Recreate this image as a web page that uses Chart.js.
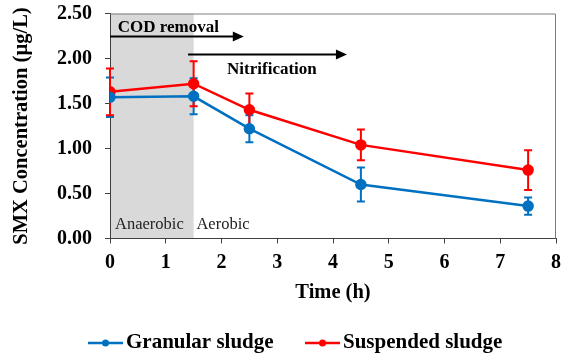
<!DOCTYPE html>
<html>
<head>
<meta charset="utf-8">
<script src="https://cdn.jsdelivr.net/npm/chart.js@4/dist/chart.umd.min.js"></script>
<style>
  html, body { margin: 0; padding: 0; background: #fff; }
  #wrap { width: 561px; height: 356px; }
</style>
</head>
<body>
<div id="wrap"><canvas id="chart" width="561" height="356"></canvas></div>
<script>
const times = [0, 1.5, 2.5, 4.5, 7.5];
const granular = [1.57, 1.58, 1.22, 0.60, 0.36];
const granularErr = [0.22, 0.20, 0.15, 0.19, 0.095];
const suspended = [1.63, 1.72, 1.43, 1.04, 0.76];
const suspendedErr = [0.26, 0.25, 0.18, 0.17, 0.22];
const seriesNames = ["Granular sludge", "Suspended sludge"];
const yTicks = [0, 0.5, 1.0, 1.5, 2.0, 2.5];

const SERIF = '"Liberation Serif", "Times New Roman", serif';
const BLUE = "#0070C0";
const RED = "#FF0000";

const toPts = (ys) => ys.map((y, i) => ({ x: times[i], y }));

// shaded anaerobic phase, arrows and phase labels
const phasePlugin = {
  id: "phases",
  beforeDraw(chart) {
    const { ctx, chartArea: a, scales: { x } } = chart;
    ctx.save();
    ctx.fillStyle = "#d9d9d9";
    ctx.fillRect(a.left, a.top, x.getPixelForValue(1.5) - a.left, a.bottom - a.top);
    ctx.restore();
  },
  afterDatasetsDraw(chart) {
    const { ctx, chartArea: a, scales: { x, y } } = chart;
    ctx.save();
    // frame top/right
    ctx.strokeStyle = "#7f7f7f";
    ctx.lineWidth = 1;
    ctx.beginPath();
    ctx.moveTo(a.left, a.top + 0.5);
    ctx.lineTo(a.right - 0.5, a.top + 0.5);
    ctx.lineTo(a.right - 0.5, a.bottom);
    ctx.stroke();

    const arrow = (x0, x1, yv) => {
      const px0 = x.getPixelForValue(x0), px1 = x.getPixelForValue(x1), py = Math.round(y.getPixelForValue(yv)) + 0.5;
      ctx.strokeStyle = "#000";
      ctx.lineWidth = 2;
      ctx.beginPath();
      ctx.moveTo(px0, py);
      ctx.lineTo(px1 - 8, py);
      ctx.stroke();
      ctx.fillStyle = "#000";
      ctx.beginPath();
      ctx.moveTo(px1, py);
      ctx.lineTo(px1 - 11, py - 5);
      ctx.lineTo(px1 - 11, py + 5);
      ctx.closePath();
      ctx.fill();
    };
    arrow(0, 2.4, 2.245);
    arrow(1.4, 4.25, 2.05);

    ctx.fillStyle = "#000";
    ctx.textBaseline = "middle";
    ctx.textAlign = "left";
    ctx.font = "bold 17px " + SERIF;
    ctx.fillText("COD removal", x.getPixelForValue(0.14), y.getPixelForValue(2.34));
    ctx.fillText("Nitrification", x.getPixelForValue(2.1), y.getPixelForValue(1.875));
    ctx.font = "16.5px " + SERIF;
    ctx.fillStyle = "#222";
    ctx.fillText("Anaerobic", x.getPixelForValue(0.09), y.getPixelForValue(0.155));
    ctx.fillText("Aerobic", x.getPixelForValue(1.55), y.getPixelForValue(0.155));
    ctx.restore();
  },
};

// vertical error bars with caps
const errorBars = {
  id: "errorBars",
  beforeDatasetsDraw(chart) {
    const { ctx, scales: { x, y } } = chart;
    const errs = [granularErr, suspendedErr];
    ctx.save();
    chart.data.datasets.forEach((ds, di) => {
      ctx.strokeStyle = ds.borderColor;
      ctx.lineWidth = 2;
      ds.data.forEach((p, i) => {
        const px = x.getPixelForValue(p.x);
        const top = y.getPixelForValue(p.y + errs[di][i]);
        const bot = y.getPixelForValue(p.y - errs[di][i]);
        ctx.beginPath();
        ctx.moveTo(px, top); ctx.lineTo(px, bot);
        ctx.moveTo(px - 4, top); ctx.lineTo(px + 4, top);
        ctx.moveTo(px - 4, bot); ctx.lineTo(px + 4, bot);
        ctx.stroke();
      });
    });
    ctx.restore();
  },
};

// legend: line with dot marker below the axis title
const legendPlugin = {
  id: "lineLegend",
  afterDraw(chart) {
    const { ctx } = chart;
    const items = [
      { x: 88, color: BLUE },
      { x: 305, color: RED },
    ];
    const ly = 343;
    ctx.save();
    ctx.font = "bold 21px " + SERIF;
    ctx.textBaseline = "middle";
    ctx.textAlign = "left";
    items.forEach((it, i) => {
      ctx.strokeStyle = it.color;
      ctx.fillStyle = it.color;
      ctx.lineWidth = 2.5;
      ctx.beginPath();
      ctx.moveTo(it.x, ly); ctx.lineTo(it.x + 35, ly);
      ctx.stroke();
      ctx.beginPath();
      ctx.arc(it.x + 17.5, ly, 3.5, 0, Math.PI * 2);
      ctx.fill();
      ctx.fillStyle = "#000";
      ctx.fillText(seriesNames[i], it.x + 38, ly);
    });
    ctx.restore();
  },
};

new Chart(document.getElementById("chart"), {
  type: "line",
  data: {
    datasets: [
      {
        label: seriesNames[0],
        data: toPts(granular),
        borderColor: BLUE,
        backgroundColor: BLUE,
        borderWidth: 2.5,
        pointRadius: 4.5,
        tension: 0,
      },
      {
        label: seriesNames[1],
        data: toPts(suspended),
        borderColor: RED,
        backgroundColor: RED,
        borderWidth: 2.5,
        pointRadius: 4.5,
        tension: 0,
      },
    ],
  },
  options: {
    responsive: false,
    animation: false,
    events: [],
    layout: { autoPadding: false, padding: { left: 0, right: 5, top: 13.5, bottom: 47.5 } },
    plugins: { legend: { display: false }, tooltip: { enabled: false } },
    scales: {
      x: {
        type: "linear",
        min: 0, max: 8,
        afterFit: (s) => { s.height = 70; s.paddingLeft = 0; s.paddingRight = 0; },
        ticks: { stepSize: 1, color: "#000", padding: 7, font: { family: SERIF, size: 20, weight: "bold" } },
        grid: { drawOnChartArea: false, drawTicks: true, tickLength: 5, color: "#404040" },
        border: { color: "#404040", width: 1 },
        title: { display: true, text: "Time (h)", color: "#000", padding: { top: 0, bottom: 3 }, font: { family: SERIF, size: 20.5, weight: "bold" } },
      },
      y: {
        min: 0, max: 2.5,
        afterFit: (s) => { s.width = 110; s.paddingTop = 0; s.paddingBottom = 0; },
        afterBuildTicks: (s) => { s.ticks = yTicks.map((v) => ({ value: v })); },
        ticks: { color: "#000", padding: 13, callback: (v) => v.toFixed(2), font: { family: SERIF, size: 20, weight: "bold" } },
        grid: { drawOnChartArea: false, drawTicks: true, tickLength: 5, color: "#404040" },
        border: { color: "#404040", width: 1 },
        title: { display: true, text: "SMX Concentration (µg/L)", color: "#000", padding: { top: 9.5, bottom: 0 }, font: { family: SERIF, size: 20.5, weight: "bold" } },
      },
    },
  },
  plugins: [phasePlugin, errorBars, legendPlugin],
});
</script>
</body>
</html>
